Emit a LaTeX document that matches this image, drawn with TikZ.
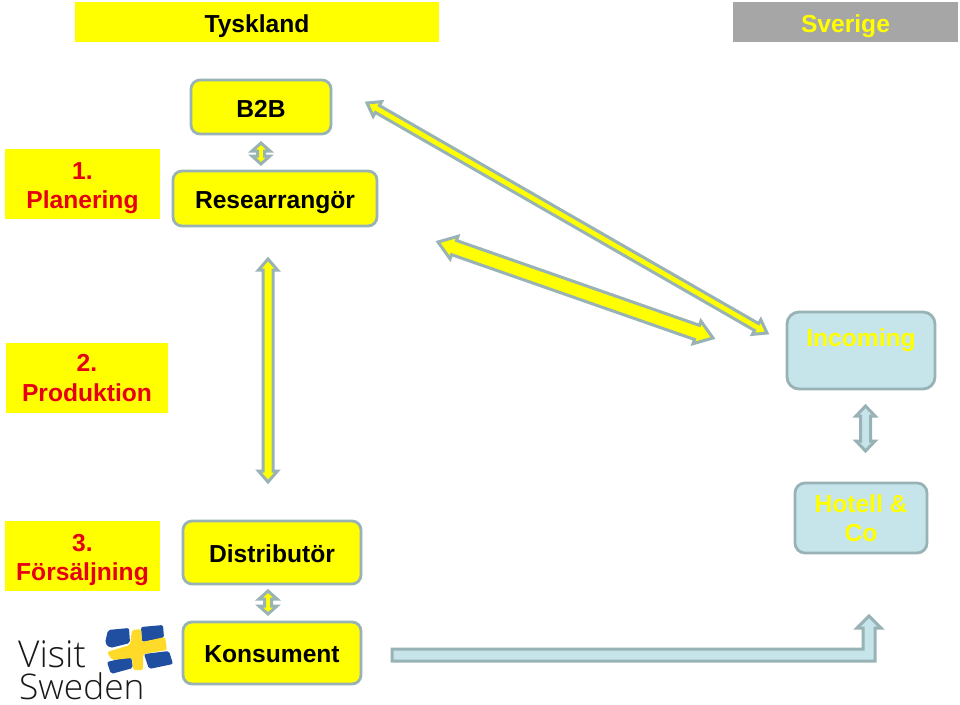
\documentclass[tikz,border=0pt]{standalone}
\usepackage{fontspec}
\setmainfont{Liberation Sans}
\newfontfamily\logofont{Open Sans Light}
\usetikzlibrary{calc}
\definecolor{ybox}{RGB}{255,255,0}
\definecolor{edge}{RGB}{152,178,182}
\definecolor{aqua}{RGB}{198,229,234}
\definecolor{redtxt}{RGB}{230,0,20}
\definecolor{flagblue}{RGB}{32,78,160}
\definecolor{flagyellow}{RGB}{255,218,40}
\tikzset{
  x=1pt,y=-1pt,
  lbl/.style={font=\bfseries\fontsize{24.6}{29.5}\selectfont,align=center,text=black,inner sep=0pt},
  flat/.style={rectangle,fill=ybox,inner sep=0pt},
  ybx/.style={rectangle,rounded corners=9pt,draw=edge,line width=2.8pt,fill=ybox,inner sep=0pt},
  abx/.style={rectangle,rounded corners=12pt,draw=edge,line width=2.8pt,fill=aqua,inner sep=0pt},
  yarr/.style={draw=edge,line width=3pt,fill=ybox,line join=miter,miter limit=4},
  aarr/.style={draw=edge,line width=3pt,fill=aqua,line join=miter,miter limit=4},
  logotxt/.style={text=black!90,inner sep=0pt,anchor=base west},
}
% #1 style, #2 #3 end coordinates, #4 half shaft, #5 half head, #6 head length
\newcommand{\dblarrow}[6]{%
  \draw[#1]
    (#2)
    -- ($(#2)!#6pt!(#3)!#5pt!90:(#3)$)
    -- ($(#2)!#6pt!(#3)!#4pt!90:(#3)$)
    -- ($(#3)!#6pt!(#2)!#4pt!-90:(#2)$)
    -- ($(#3)!#6pt!(#2)!#5pt!-90:(#2)$)
    -- (#3)
    -- ($(#3)!#6pt!(#2)!#5pt!90:(#2)$)
    -- ($(#3)!#6pt!(#2)!#4pt!90:(#2)$)
    -- ($(#2)!#6pt!(#3)!#4pt!-90:(#3)$)
    -- ($(#2)!#6pt!(#3)!#5pt!-90:(#3)$)
    -- cycle;}
% name, box style, x0,y0,x1,y1, text style, text centre y, text
\newcommand{\boxat}[9]{%
  \node[#2,minimum width={(#5-#3)*1pt},minimum height={(#6-#4)*1pt}] (#1)
    at ({(#3+#5)/2},{(#4+#6)/2}) {};
  \node[lbl,#7] (#1t) at ({(#3+#5)/2},#8) {#9};}
\begin{document}
\begin{tikzpicture}
\useasboundingbox (0,0) rectangle (960,704);
\boxat{tysk}{flat}{75}{2}{439}{42}{}{26}{Tyskland}
\boxat{sve}{flat,fill=black!35}{733}{2}{958}{42}{text=ybox}{26}{Sverige}
\boxat{plan}{flat}{5}{149}{160}{219}{text=redtxt}{188}{1.\\Planering}
\boxat{prod}{flat}{6}{343}{168}{413}{text=redtxt}{378}{2.\\Produktion}
\boxat{fors}{flat}{5}{521}{160}{591}{text=redtxt}{560}{3.\\Försäljning}
\boxat{b2b}{ybx}{191}{80}{331}{134}{}{109}{B2B}
\boxat{res}{ybx}{173}{171}{377}{226}{}{202.5}{Researrangör}
\boxat{dist}{ybx}{183}{521}{361}{584}{}{553.5}{Distributör}
\boxat{kons}{ybx}{183}{622}{361}{684}{}{654}{Konsument}
\boxat{inc}{abx}{787}{312}{935}{389}{text=ybox}{340}{Incoming}
\boxat{hot}{abx,rounded corners=10pt}{795}{483}{927}{553}{text=ybox}{518}{Hotell \&\\Co}
\coordinate (a1) at (261,143); \coordinate (a2) at (261,164);
\coordinate (b1) at (268,259); \coordinate (b2) at (268,482);
\coordinate (c1) at (367,103); \coordinate (c2) at (767,333);
\coordinate (d1) at (438,242); \coordinate (d2) at (713,338);
\coordinate (e1) at (865.5,406); \coordinate (e2) at (865.5,451);
\coordinate (f1) at (268,591); \coordinate (f2) at (268,614);
\dblarrow{yarr}{a1}{a2}{3.5}{9}{8}
\dblarrow{yarr}{b1}{b2}{5}{9.5}{11}
\dblarrow{yarr}{c1}{c2}{4}{8.5}{12}
\dblarrow{yarr}{d1}{d2}{7.5}{12}{17}
\dblarrow{aarr}{e1}{e2}{5}{9.5}{10}
\dblarrow{yarr}{f1}{f2}{3.5}{9}{8}
\coordinate (g1) at (392,655);
\coordinate (g2) at (869,616);
\draw[aarr] (392,649) -- (863,649) -- (863,628) -- (857,628) -- (g2) -- (881,628) -- (875,628) -- (875,661) -- (392,661) -- cycle;
% logo
\node[font=\logofont\fontsize{37}{37}\selectfont,logotxt] (visit) at (18,667) {Visit};
\node[font=\logofont\fontsize{35.3}{35.3}\selectfont,logotxt] (sweden) at (19,699) {Sweden};
\fill[flagblue,rounded corners=2pt] (108,630)--(129,628)--(130,643)--(110,648)--(105,643)--cycle;
\fill[flagblue,rounded corners=2pt] (141,627)--(163,625)--(164,638)--(142,642)--cycle;
\fill[flagblue,rounded corners=2pt] (107,662)--(131,656)--(133,668)--(111,674)--cycle;
\fill[flagblue,rounded corners=2pt] (144,654)--(169,651)--(173,664)--(149,669)--cycle;
\fill[flagyellow,rounded corners=2pt] (132,630)--(141,629)--(142,642)--(165,637)--(167,650)--(143,654)--(143,670)--(133,670)--(132,658)--(112,660)--(107,652)--(130,645)--cycle;
\end{tikzpicture}
\end{document}
